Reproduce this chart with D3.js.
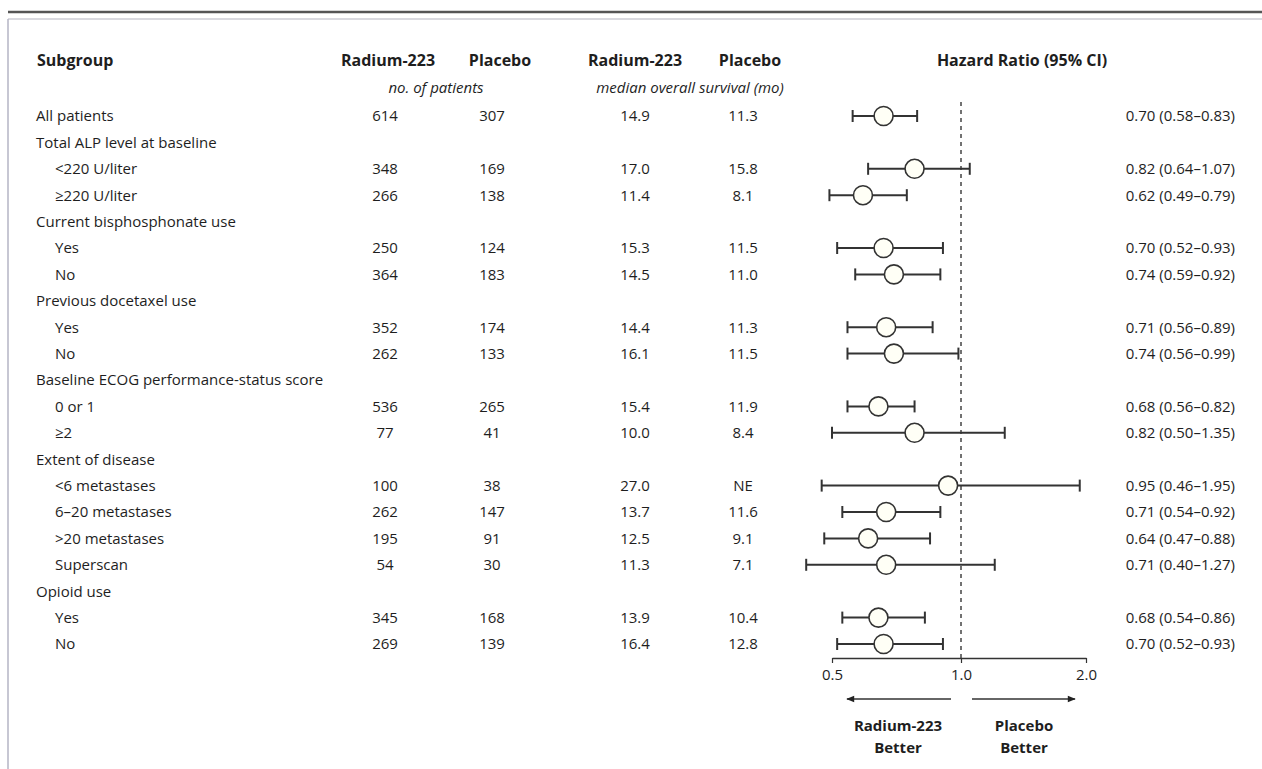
<!DOCTYPE html>
<html>
<head>
<meta charset="utf-8">
<script src="https://cdn.jsdelivr.net/npm/d3@7"></script>
<style>
  body { margin: 0; background: #fff; }
  svg { display: block; font-family: "Open Sans", sans-serif; }
  text { fill: #1e1e1e; }
</style>
</head>
<body>
<svg></svg>
<script>
// FOREST PLOT - overall survival by subgroup
var rowLabels = ['All patients', 'Total ALP level at baseline', '<220 U/liter', '\u2265220 U/liter',
    'Current bisphosphonate use', 'Yes', 'No', 'Previous docetaxel use', 'Yes', 'No',
    'Baseline ECOG performance-status score', '0 or 1', '\u22652', 'Extent of disease',
    '<6 metastases', '6\u201320 metastases', '>20 metastases', 'Superscan', 'Opioid use', 'Yes', 'No'];
var rowIndent = [0, 0, 1, 1, 0, 1, 1, 0, 1, 1, 0, 1, 1, 0, 1, 1, 1, 1, 0, 1, 1];
var nRadium = [614, null, 348, 266, null, 250, 364, null, 352, 262, null, 536, 77, null, 100, 262, 195, 54, null, 345, 269];
var nPlacebo = [307, null, 169, 138, null, 124, 183, null, 174, 133, null, 265, 41, null, 38, 147, 91, 30, null, 168, 139];
var osRadium = [14.9, null, 17.0, 11.4, null, 15.3, 14.5, null, 14.4, 16.1, null, 15.4, 10.0, null, 27.0, 13.7, 12.5, 11.3, null, 13.9, 16.4];
var osPlacebo = [11.3, null, 15.8, 8.1, null, 11.5, 11.0, null, 11.3, 11.5, null, 11.9, 8.4, null, 'NE', 11.6, 9.1, 7.1, null, 10.4, 12.8];
var hr = [0.70, null, 0.82, 0.62, null, 0.70, 0.74, null, 0.71, 0.74, null, 0.68, 0.82, null, 0.95, 0.71, 0.64, 0.71, null, 0.68, 0.70];
var ciLow = [0.58, null, 0.64, 0.49, null, 0.52, 0.59, null, 0.56, 0.56, null, 0.56, 0.50, null, 0.46, 0.54, 0.47, 0.40, null, 0.54, 0.52];
var ciHigh = [0.83, null, 1.07, 0.79, null, 0.93, 0.92, null, 0.89, 0.99, null, 0.82, 1.35, null, 1.95, 0.92, 0.88, 1.27, null, 0.86, 0.93];
var axisTicks = [0.5, 1.0, 2.0];

var svgWidth = 1262,
    svgHeight = 769;

var svg = d3.select('svg')
    .attr('width', svgWidth)
    .attr('height', svgHeight);

var rows = d3.range(rowLabels.length);

var y = d3.scalePoint()
    .domain(rows)
    .range([116, 644]);

// the printed axis is linear below 1.0 and compressed above it
var x = d3.scaleLinear()
    .domain(axisTicks)
    .range([832, 961, 1086]);

var f1 = d3.format('.1f'),
    f2 = d3.format('.2f');

// frame lines
svg.append('line').attr('x1', 8).attr('x2', svgWidth).attr('y1', 12).attr('y2', 12)
    .attr('stroke', '#555').attr('stroke-width', 2.5);
svg.append('line').attr('x1', 8).attr('x2', svgWidth).attr('y1', 19).attr('y2', 19)
    .attr('stroke', '#b4b4c0').attr('stroke-width', 1.2);
svg.append('line').attr('x1', 8).attr('x2', 8).attr('y1', 19).attr('y2', svgHeight)
    .attr('stroke', '#b4b4c4').attr('stroke-width', 1.5);

// column headers
var headers = [
    {t: 'Subgroup', x: 37, a: 'start'},
    {t: 'Radium-223', x: 388, a: 'middle'},
    {t: 'Placebo', x: 500, a: 'middle'},
    {t: 'Radium-223', x: 635, a: 'middle'},
    {t: 'Placebo', x: 750, a: 'middle'},
    {t: 'Hazard Ratio (95% CI)', x: 1022, a: 'middle'}
];
svg.selectAll('.hdr')
    .data(headers)
    .enter()
    .append('text')
    .attr('class', 'hdr')
    .attr('x', function (d) { return d.x; })
    .attr('y', 66)
    .attr('text-anchor', function (d) { return d.a; })
    .style('font-weight', 'bold')
    .style('font-size', '16px')
    .text(function (d) { return d.t; });

svg.append('text').attr('x', 436).attr('y', 93).attr('text-anchor', 'middle')
    .style('font-style', 'italic').style('font-size', '15px').text('no. of patients');
svg.append('text').attr('x', 690).attr('y', 93).attr('text-anchor', 'middle')
    .style('font-style', 'italic').style('font-size', '15px').text('median overall survival (mo)');

// table text
function column(values, xPos, anchor, fmt) {
    svg.append('g')
        .selectAll('text')
        .data(rows.filter(function (i) { return values[i] !== null; }))
        .enter()
        .append('text')
        .attr('x', typeof xPos === 'function' ? xPos : function () { return xPos; })
        .attr('y', function (i) { return y(i); })
        .attr('dy', '0.36em')
        .attr('text-anchor', anchor)
        .style('font-size', '15px')
        .text(function (i) { return fmt(values[i], i); });
}

column(rowLabels, function (i) { return rowIndent[i] ? 55 : 36; }, 'start', function (v) { return v; });
column(nRadium, 385, 'middle', function (v) { return v; });
column(nPlacebo, 492, 'middle', function (v) { return v; });
column(osRadium, 635, 'middle', function (v) { return f1(v); });
column(osPlacebo, 743, 'middle', function (v) { return typeof v === 'string' ? v : f1(v); });
column(hr, 1235, 'end', function (v, i) {
    return f2(v) + ' (' + f2(ciLow[i]) + '\u2013' + f2(ciHigh[i]) + ')';
});

// reference line at 1.0
svg.append('line')
    .attr('x1', x(1)).attr('x2', x(1))
    .attr('y1', 102).attr('y2', 658)
    .attr('stroke', '#444')
    .attr('stroke-width', 1.5)
    .attr('stroke-dasharray', '4,4');

// confidence intervals
var plotRows = rows.filter(function (i) { return hr[i] !== null; });
var ci = svg.append('g').selectAll('g')
    .data(plotRows)
    .enter()
    .append('g');

ci.append('line')
    .attr('x1', function (i) { return x(ciLow[i]); })
    .attr('x2', function (i) { return x(ciHigh[i]); })
    .attr('y1', function (i) { return y(i); })
    .attr('y2', function (i) { return y(i); })
    .attr('stroke', '#333')
    .attr('stroke-width', 2);
ci.append('line')
    .attr('x1', function (i) { return x(ciLow[i]); })
    .attr('x2', function (i) { return x(ciLow[i]); })
    .attr('y1', function (i) { return y(i) - 6; })
    .attr('y2', function (i) { return y(i) + 6; })
    .attr('stroke', '#333')
    .attr('stroke-width', 2);
ci.append('line')
    .attr('x1', function (i) { return x(ciHigh[i]); })
    .attr('x2', function (i) { return x(ciHigh[i]); })
    .attr('y1', function (i) { return y(i) - 6; })
    .attr('y2', function (i) { return y(i) + 6; })
    .attr('stroke', '#333')
    .attr('stroke-width', 2);
ci.append('circle')
    .attr('cx', function (i) { return x(hr[i]); })
    .attr('cy', function (i) { return y(i); })
    .attr('r', 9.5)
    .attr('fill', '#fffff6')
    .attr('stroke', '#333')
    .attr('stroke-width', 1.6);

// axis
var axis = svg.append('g')
    .attr('transform', 'translate(0, 658)')
    .call(d3.axisBottom(x).tickValues(axisTicks).tickFormat(f1).tickSize(5).tickSizeOuter(0));
axis.select('.domain').attr('stroke', '#333').attr('stroke-width', 1.5);
axis.selectAll('.tick line').attr('stroke', '#333').attr('stroke-width', 1.2);
axis.selectAll('.tick text')
    .style('font-family', '"Open Sans", sans-serif')
    .style('font-size', '15px')
    .attr('fill', '#1e1e1e')
    .attr('dy', '0.9em');

// direction arrows
var defs = svg.append('defs');
defs.append('marker')
    .attr('id', 'arrow')
    .attr('viewBox', '0 0 10 10')
    .attr('refX', 9).attr('refY', 5)
    .attr('markerWidth', 10).attr('markerHeight', 8)
    .attr('markerUnits', 'userSpaceOnUse')
    .attr('orient', 'auto')
    .append('path')
    .attr('d', 'M0,1L10,5L0,9Z')
    .attr('fill', '#222');

svg.append('line')
    .attr('x1', x(1) - 10).attr('x2', x(0.5) + 15)
    .attr('y1', 699).attr('y2', 699)
    .attr('stroke', '#333').attr('stroke-width', 1.5)
    .attr('marker-end', 'url(#arrow)');
svg.append('line')
    .attr('x1', x(1) + 11).attr('x2', x(2) - 11)
    .attr('y1', 699).attr('y2', 699)
    .attr('stroke', '#333').attr('stroke-width', 1.5)
    .attr('marker-end', 'url(#arrow)');

var better = [
    {t: ['Radium-223', 'Better'], x: 898},
    {t: ['Placebo', 'Better'], x: 1024}
];
better.forEach(function (b) {
    b.t.forEach(function (line, k) {
        svg.append('text')
            .attr('x', b.x)
            .attr('y', 731 + k * 22)
            .attr('text-anchor', 'middle')
            .style('font-weight', 'bold')
            .style('font-size', '15px')
            .text(line);
    });
});
</script>
</body>
</html>
